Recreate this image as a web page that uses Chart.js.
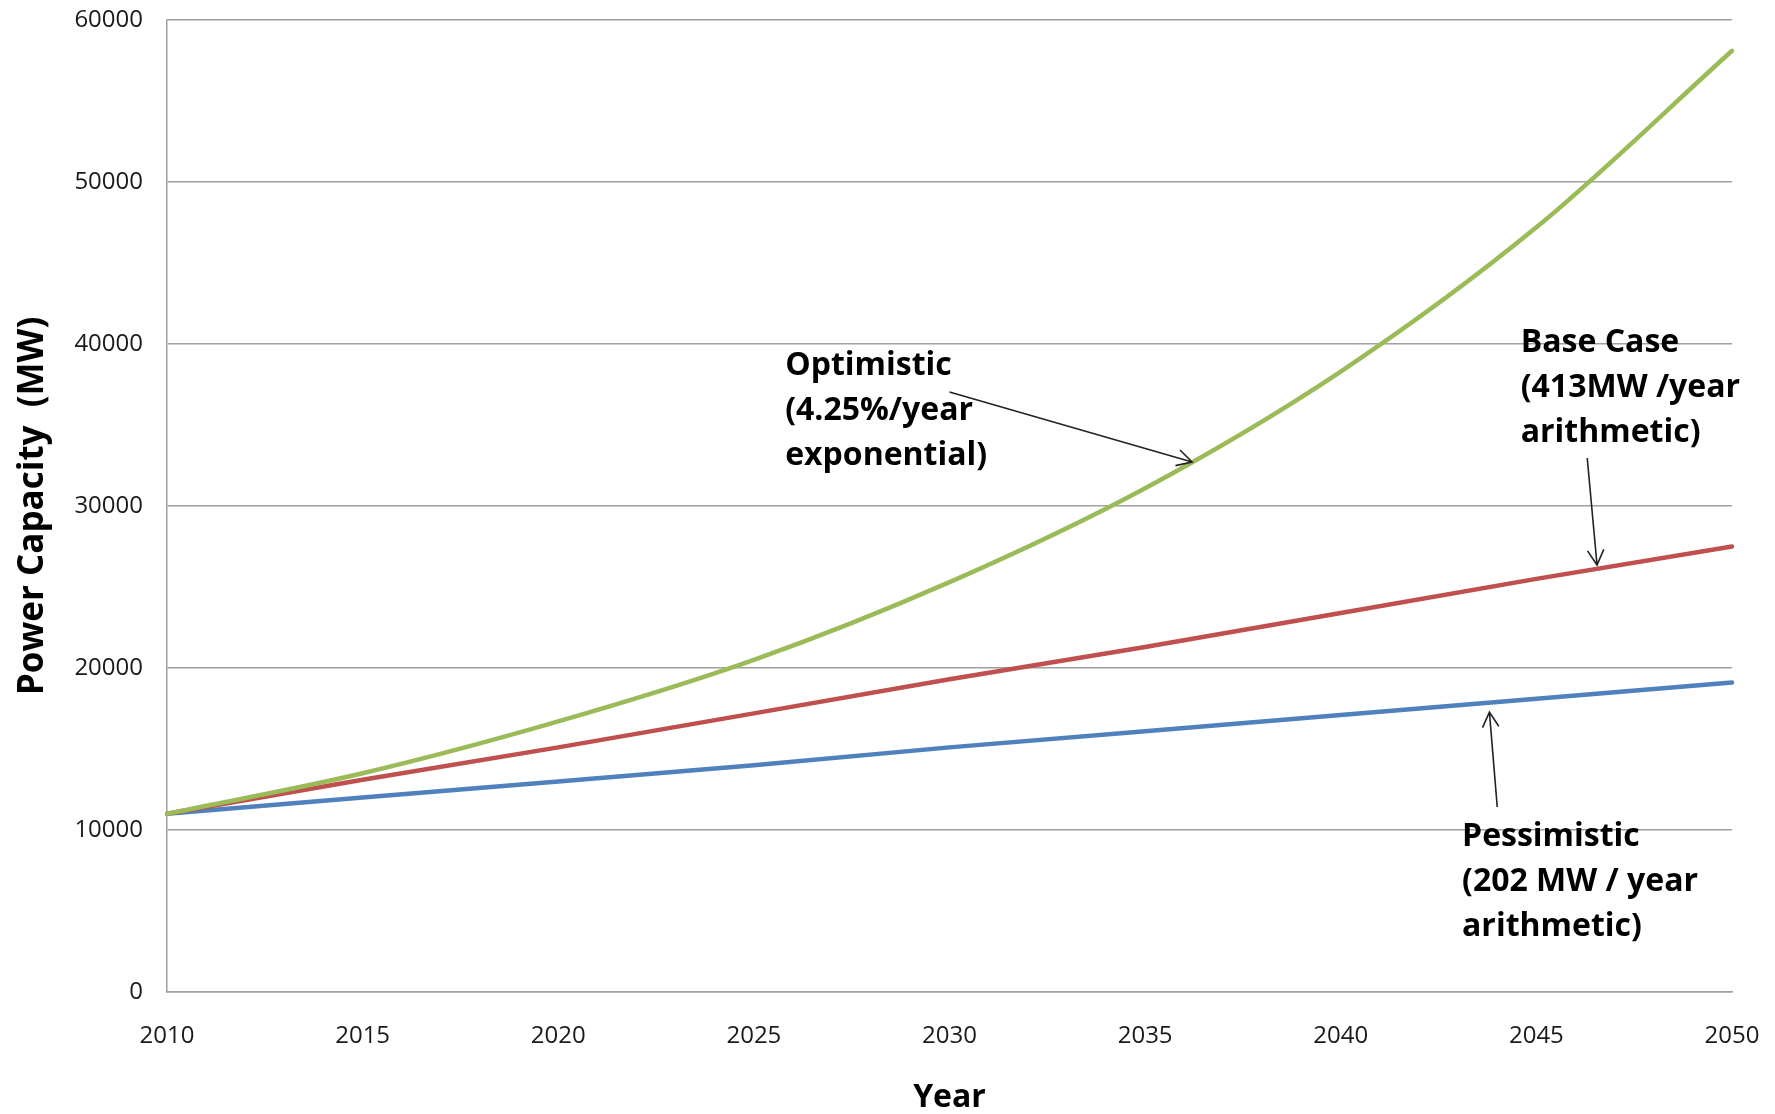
<!DOCTYPE html>
<html>
<head>
<meta charset="utf-8">
<script src="https://cdn.jsdelivr.net/npm/chart.js@4"></script>
<style>
  html, body { margin: 0; padding: 0; background: #fff; }
  #wrap { width: 1775px; height: 1114px; }
</style>
</head>
<body>
<div id="wrap"><canvas id="idCanvas"></canvas></div>
<script>
// values (MW)
const years = ['2010', '2015', '2020', '2025', '2030', '2035', '2040', '2045', '2050'];
const optimistic = [11000, 13500, 16700, 20500, 25300, 31100, 38300, 47200, 58100];
const baseCase = [11000, 13100, 15100, 17200, 19300, 21300, 23400, 25500, 27500];
const pessimistic = [11000, 12000, 13000, 14000, 15100, 16100, 17100, 18100, 19100];

// callouts: text anchored at (year, MW), arrow from -> to in (year, MW)
const notes = [
    { lines: ['Optimistic', '(4.25%/year', 'exponential)'], at: [2025.8, 38640], from: [2030.0, 37040], to: [2036.2, 32720] },
    { lines: ['Base Case', '(413MW /year', 'arithmetic)'], at: [2044.6, 40060], from: [2046.3, 32960], to: [2046.55, 26360] },
    { lines: ['Pessimistic', '(202 MW / year', 'arithmetic)'], at: [2043.1, 9570], from: [2044.0, 11420], to: [2043.8, 17280] }
];

function xPix(chart, yr){
    let x = chart.scales.x;
    let f = (yr - 2010) / 40;
    return x.left + f * (x.right - x.left);
}

const calloutPlugin = {
    id: 'callouts',
    afterDraw(chart){
        let ctx = chart.ctx;
        let y = chart.scales.y;
        ctx.save();
        ctx.fillStyle = '#000';
        ctx.font = 'bold 32px "Open Sans"';
        ctx.textAlign = 'left';
        ctx.textBaseline = 'middle';
        notes.forEach(n => {
            let tx = xPix(chart, n.at[0]);
            let ty = y.getPixelForValue(n.at[1]);
            n.lines.forEach((l, i) => ctx.fillText(l, tx, ty + i * 45));

            let x1 = xPix(chart, n.from[0]), y1 = y.getPixelForValue(n.from[1]);
            let x2 = xPix(chart, n.to[0]), y2 = y.getPixelForValue(n.to[1]);
            ctx.strokeStyle = '#222';
            ctx.lineWidth = 1.6;
            ctx.beginPath();
            ctx.moveTo(x1, y1);
            ctx.lineTo(x2, y2);
            let a = Math.atan2(y2 - y1, x2 - x1);
            let h = 17;
            ctx.moveTo(x2 - h * Math.cos(a - 0.5), y2 - h * Math.sin(a - 0.5));
            ctx.lineTo(x2, y2);
            ctx.lineTo(x2 - h * Math.cos(a + 0.5), y2 - h * Math.sin(a + 0.5));
            ctx.stroke();
        });
        ctx.restore();
    }
};

let ctx = document.getElementById('idCanvas').getContext('2d');
let myChart = new Chart(ctx, {
    type: 'line',
    data: {
        labels: years,
        datasets: [
            { label: 'Optimistic', data: optimistic, borderColor: '#9BBB59', cubicInterpolationMode: 'monotone' },
            { label: 'Base Case', data: baseCase, borderColor: '#C0504D' },
            { label: 'Pessimistic', data: pessimistic, borderColor: '#4F81BD' }
        ]
    },
    options: {
        responsive: true,
        maintainAspectRatio: false,
        animation: false,
        layout: { padding: { top: 20, right: 43, left: 0, bottom: 0 } },
        elements: {
            line: { borderWidth: 4.5, tension: 0, borderCapStyle: 'round' },
            point: { radius: 0 }
        },
        plugins: {
            legend: { display: false },
            tooltip: { enabled: false }
        },
        scales: {
            x: {
                grid: { display: false, drawTicks: true, tickLength: 30, tickColor: 'rgba(0,0,0,0)' },
                border: { display: true, color: '#a0a0a0', width: 1.5 },
                ticks: { color: '#1a1a1a', font: { family: 'Open Sans', size: 24 }, padding: 0, maxRotation: 0, autoSkip: false },
                title: { display: true, text: 'Year', color: '#000', font: { family: 'Open Sans', size: 32, weight: 'bold', lineHeight: 1.0 }, padding: { top: 0, bottom: 0 } },
                afterFit: s => { s.height = 122; }
            },
            y: {
                min: 0,
                max: 60000,
                grid: { color: '#a0a0a0', lineWidth: 1.5, drawTicks: true, tickLength: 24, tickColor: 'rgba(0,0,0,0)' },
                border: { display: true, color: '#a0a0a0', width: 1.5 },
                ticks: { stepSize: 10000, color: '#1a1a1a', font: { family: 'Open Sans', size: 24 }, padding: 0, callback: v => String(v) },
                title: { display: true, text: 'Power Capacity  (MW)', color: '#000', font: { family: 'Open Sans', size: 35, weight: 'bold' }, padding: { top: 12, bottom: 0 } },
                afterFit: s => { s.width = 167; }
            }
        }
    },
    plugins: [calloutPlugin]
});
</script>
</body>
</html>
